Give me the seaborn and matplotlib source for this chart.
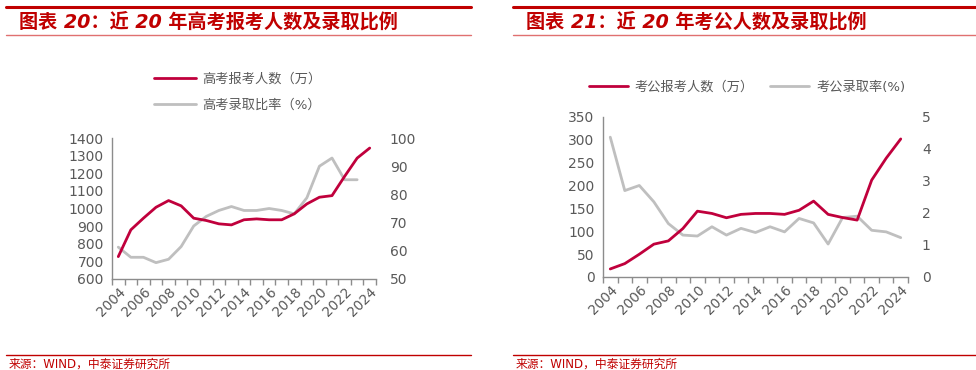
import numpy as np
import matplotlib
matplotlib.use('Agg')
import matplotlib.pyplot as plt
import seaborn as sns
from matplotlib.lines import Line2D

# Dados
anos = list(range(2004, 2025))
rotulos_x = [str(a) if a % 2 == 0 else '' for a in anos]

gaokao_inscritos = [727, 879, 945, 1007, 1045, 1015, 945, 932, 913, 907, 936,
                    941, 936, 936, 970, 1026, 1064, 1073, 1182, 1286, 1343]
gaokao_taxa = [61.3, 57.7, 57.7, 55.8, 57.0, 61.5, 68.8, 72.2, 74.3, 75.7, 74.3,
               74.3, 75.0, 74.3, 73.1, 78.8, 90.0, 92.9, 85.2, 85.2, np.nan]

kaogong_inscritos = [17.6, 29.3, 49.8, 71.8, 79.0, 106, 144, 139, 129.6, 137, 139,
                     139, 137, 146, 166, 137, 130, 124.5, 212, 260, 302]
kaogong_taxa = [4.37, 2.70, 2.86, 2.35, 1.67, 1.31, 1.28, 1.57, 1.31, 1.52, 1.39,
                1.57, 1.41, 1.83, 1.69, 1.03, 1.86, 1.90, 1.46, 1.41, 1.23]

titulos = ['图表 20：近 20 年高考报考人数及录取比例', '图表 21：近 20 年考公人数及录取比例']
legendas = [['高考报考人数（万）', '高考录取比率（%）'], ['考公报考人数（万）', '考公录取率(%)']]
fonte = '来源：WIND，中泰证券研究所'

vermelho = '#C0003C'
cinza = '#BFBFBF'
cor_eixo = '#8C8C8C'
cor_texto = '#595959'
vermelho_titulo = '#C00000'

sns.set_style('white')
plt.rcParams['font.family'] = ['DejaVu Sans', 'Noto Sans CJK SC']

W, H = 976, 370
fig = plt.figure(figsize=(W / 100, H / 100), dpi=100)


def px(x0, y0, x1, y1):
    # converte caixa em pixels (origem no topo) para fração da figura
    return [x0 / W, 1 - y1 / H, (x1 - x0) / W, (y1 - y0) / H]


def plotar_painel(caixa, esq, dir_, lim_esq, ticks_esq, lim_dir, ticks_dir):
    ax = fig.add_axes(px(*caixa))
    axd = ax.twinx()
    pos = np.arange(len(anos))
    sns.lineplot(x=pos, y=dir_, ax=axd, color=cinza, lw=2.0)
    sns.lineplot(x=pos, y=esq, ax=ax, color=vermelho, lw=2.0)
    ax.set_zorder(axd.get_zorder() + 1)
    ax.patch.set_visible(False)

    ax.set_xlim(-0.5, len(anos) - 0.5)
    ax.set_ylim(*lim_esq)
    ax.set_yticks(ticks_esq)
    axd.set_ylim(*lim_dir)
    axd.set_yticks(ticks_dir)

    ax.set_xticks(pos)
    ax.set_xticklabels(rotulos_x, rotation=45, ha='right', rotation_mode='anchor')
    ax.set_xticks(np.arange(-0.5, len(anos), 1), minor=True)
    ax.tick_params(axis='x', which='major', length=0, pad=4, labelsize=9.8, labelcolor=cor_texto)
    ax.tick_params(axis='x', which='minor', length=4, width=1, color=cor_eixo, direction='out', bottom=True)
    ax.tick_params(axis='y', length=0, pad=6, labelsize=10, labelcolor=cor_texto)
    axd.tick_params(axis='y', length=0, pad=10, labelsize=10, labelcolor=cor_texto)

    for s in ['top', 'right']:
        ax.spines[s].set_visible(False)
    for s in ['left', 'bottom']:
        ax.spines[s].set_color(cor_eixo)
        ax.spines[s].set_linewidth(1)
    for s in axd.spines.values():
        s.set_visible(False)
    ax.set_xlabel('')
    ax.set_ylabel('')
    axd.set_ylabel('')
    return ax


plotar_painel((112, 138, 376, 279), gaokao_inscritos, gaokao_taxa,
              (600, 1400), range(600, 1401, 100), (50, 100), range(50, 101, 10))
plotar_painel((603, 117, 908, 277), kaogong_inscritos, kaogong_taxa,
              (0, 350), range(0, 351, 50), (0, 5), range(0, 6, 1))

# Legendas
h1 = [Line2D([], [], color=vermelho, lw=2.0), Line2D([], [], color=cinza, lw=2.0)]
fig.legend(h1, legendas[0], loc='upper left', bbox_to_anchor=(147 / W, 1 - 66 / H),
           frameon=False, fontsize=9.5, handlelength=3.2, handletextpad=0.5,
           labelspacing=1.0, borderpad=0, labelcolor=cor_texto)
fig.legend(h1, legendas[1], loc='upper left', bbox_to_anchor=(582 / W, 1 - 74 / H),
           frameon=False, fontsize=9.5, ncol=2, handlelength=3.0, handletextpad=0.5,
           columnspacing=1.2, borderpad=0, labelcolor=cor_texto)

# Título e rodapé de cada painel
for x0, x1, titulo in [(6, 471, titulos[0]), (513, 976, titulos[1])]:
    fig.add_artist(Line2D([x0 / W, x1 / W], [1 - 7 / H] * 2, color=vermelho_titulo, lw=2.2))
    fig.add_artist(Line2D([x0 / W, x1 / W], [1 - 35 / H] * 2, color='#E07070', lw=1))
    fig.text((x0 + 13) / W, 1 - 22 / H, titulo, color=vermelho_titulo, fontsize=13.8,
             fontweight='bold', fontstyle='italic', va='center', ha='left')
    fig.add_artist(Line2D([x0 / W, x1 / W], [1 - 355 / H] * 2, color=vermelho_titulo, lw=1))
    fig.text((x0 + 3) / W, 1 - 364 / H, fonte, color=vermelho_titulo, fontsize=8.5,
             va='center', ha='left')

fig.savefig('out.png', dpi=100)
